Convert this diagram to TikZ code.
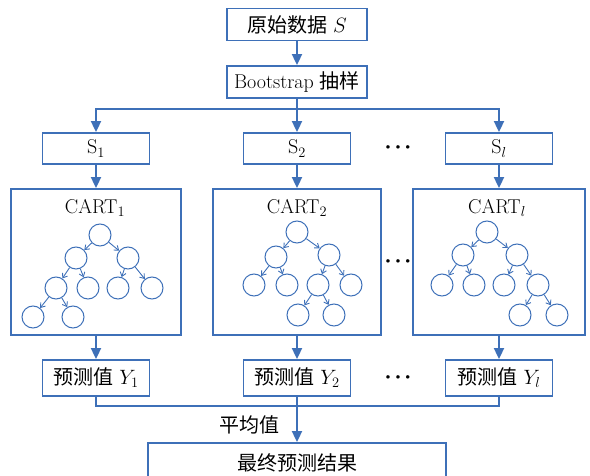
\documentclass[tikz,border=0pt]{standalone}
\usepackage{fontspec}
\newfontfamily\cjk{Noto Sans CJK SC}
\usetikzlibrary{arrows.meta}
\definecolor{lineblue}{RGB}{62,112,184}

\begin{document}
\begin{tikzpicture}[x=1pt,y=-1pt,
    box/.style={draw=lineblue, line width=1.8pt, inner sep=0pt, font=\fontsize{20}{22}\selectfont},
    plaintext/.style={inner sep=0pt, font=\fontsize{20}{22}\selectfont},
    dots/.style={inner sep=0pt, font=\fontsize{13}{13}\selectfont},
    flow/.style={draw=lineblue, line width=1.8pt},
    flowarrow/.style={flow, -{Triangle[length=11pt,width=10pt]}},
    leaf/.style={circle, draw=lineblue, line width=1pt, minimum size=22pt, inner sep=0pt},
    treearrow/.style={draw=lineblue, line width=0.9pt, -{Straight Barb[length=4pt,width=6pt]}},
]
    \useasboundingbox (0,0) rectangle (590,476);

    % top of the flow
    \node[box, minimum width=140pt, minimum height=32pt] (orig) at (297,24.5) {{\cjk 原始数据} $S$};
    \node[box, minimum width=140pt, minimum height=32pt] (boot) at (297,82) {Bootstrap {\cjk 抽样}};

    % samples
    \node[box, minimum width=107pt, minimum height=31pt] (s1) at (96,148.5) {$\mathrm{S}_1$};
    \node[box, minimum width=107pt, minimum height=31pt] (s2) at (297,148.5) {$\mathrm{S}_2$};
    \node[box, minimum width=107pt, minimum height=31pt] (sl) at (499,148.5) {$\mathrm{S}_l$};

    % trees
    \node[box, minimum width=170pt, minimum height=146pt] (cart1) at (96,262) {};
    \node[box, minimum width=168pt, minimum height=146pt] (cart2) at (297,262) {};
    \node[box, minimum width=172pt, minimum height=146pt] (cartl) at (499,262) {};
    \node[plaintext] (title1) at (95,208) {CART$_1$};
    \node[plaintext] (title2) at (297,208) {CART$_2$};
    \node[plaintext] (titlel) at (497,208) {CART$_l$};

    % predictions
    \node[box, minimum width=107pt, minimum height=36pt] (y1) at (96,378) {{\cjk 预测值} $Y_1$};
    \node[box, minimum width=107pt, minimum height=36pt] (y2) at (297,378) {{\cjk 预测值} $Y_2$};
    \node[box, minimum width=107pt, minimum height=36pt] (yl) at (499,378) {{\cjk 预测值} $Y_l$};
    \node[box, minimum width=298pt, minimum height=40pt] (final) at (297,463) {{\cjk 最终预测结果}};

    \node[dots] (dots1) at (398,148) {\textbullet\textbullet\textbullet};
    \node[dots] (dots2) at (398,262) {\textbullet\textbullet\textbullet};
    \node[dots] (dots3) at (398,378) {\textbullet\textbullet\textbullet};
    \node[plaintext] (avg) at (249,425) {\cjk 平均值};

    % connectors
    \coordinate (split) at (297,109);
    \coordinate (merge) at (297,406);
    \draw[flowarrow] (orig) -- (boot);
    \draw[flowarrow] (boot) -- (s2);
    \draw[flowarrow] (split) -| (s1);
    \draw[flowarrow] (split) -| (sl);
    \foreach \i in {1,2,l} {
        \draw[flowarrow] (s\i) -- (cart\i);
        \draw[flowarrow] (cart\i) -- (y\i);
    }
    \draw[flow] (y1) |- (merge);
    \draw[flow] (yl) |- (merge);
    \draw[flowarrow] (y2) -- (final);

    % tree circles
    \foreach \n/\x/\y in {a0/100/235, a1/76/258, a2/128/258, a3/56/288, a4/88/288,
        a5/118/288, a6/152/288, a7/33/317, a8/73/317,
        b0/297/232, b1/276/257, b2/329/255, b3/254/285, b4/287/285,
        b5/318/285, b6/351/285, b7/298/315, b8/334/315,
        c0/487/232, c1/463/255, c2/517/255, c3/442/285, c4/474/285,
        c5/504/285, c6/538/285, c7/520/315, c8/557/315}
        \node[leaf] (\n) at (\x,\y) {};
    \foreach \a/\b in {a0/a1, a0/a2, a1/a3, a1/a4, a2/a5, a2/a6, a3/a7, a3/a8,
        b0/b1, b0/b2, b1/b3, b1/b4, b2/b5, b2/b6, b5/b7, b5/b8,
        c0/c1, c0/c2, c1/c3, c1/c4, c2/c5, c2/c6, c6/c7, c6/c8}
        \draw[treearrow] (\a) -- (\b);
\end{tikzpicture}
\end{document}
